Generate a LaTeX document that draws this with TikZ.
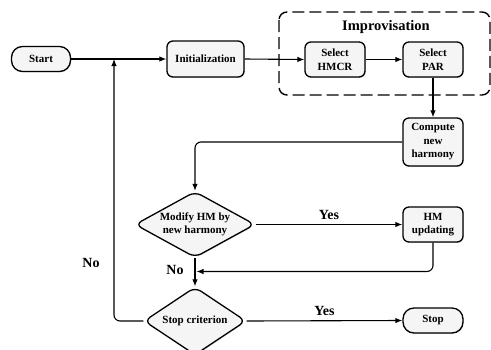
\documentclass[tikz,border=0pt]{standalone}
\usepackage{fontspec}
\setmainfont{Liberation Serif}
\usetikzlibrary{arrows.meta,shapes.geometric,shadows}
\begin{document}
\begin{tikzpicture}[x=1pt,y=-1pt,
  font=\bfseries\fontsize{11pt}{13.5pt}\selectfont,
  box/.style={draw=black, line width=1.3pt, fill=gray!8, rounded corners=6pt,
    align=center, inner sep=2pt, drop shadow={shadow xshift=0.8pt,shadow yshift=-0.8pt,opacity=0.3}},
  pill/.style={box, rounded corners=11pt},
  dia/.style={draw=black, line width=1.3pt, fill=gray!8, diamond, rounded corners=7pt,
    inner sep=0pt, drop shadow={shadow xshift=0.8pt,shadow yshift=-0.8pt,opacity=0.3}},
  txt/.style={align=center, inner sep=0pt},
  arr/.style={line width=1.1pt, -{Latex[length=7pt,width=5.5pt]}},
  lbl/.style={font=\bfseries\fontsize{14pt}{16pt}\selectfont},
]
\useasboundingbox (0,0) rectangle (491,349);
% dashed improvisation box
\draw[line width=1.4pt, dash pattern=on 12pt off 5pt, rounded corners=8pt] (279,12) rectangle (490,95);
\node[font=\bfseries\fontsize{14.5pt}{16pt}\selectfont] (imp) at (386,27) {Improvisation};

\node[pill, minimum width=59pt, minimum height=25pt] (start) at (41,59) {Start};
\node[box, minimum width=77pt, minimum height=36pt] (init) at (205.5,59) {Initialization};
\node[box, minimum width=60pt, minimum height=35pt] (hmcr) at (335,59.5) {Select\\HMCR};
\node[box, minimum width=60pt, minimum height=35pt] (par) at (433,59.5) {Select\\PAR};
\node[box, minimum width=60pt, minimum height=48pt] (comp) at (433,142) {Compute\\new\\harmony};
\node[dia, minimum width=120pt, minimum height=66pt] (mod) at (195,224.5) {};
\node[txt] (modt) at (mod.center) {Modify HM by\\new harmony};
\node[box, minimum width=60pt, minimum height=35pt] (upd) at (433,224.5) {HM\\updating};
\node[dia, minimum width=102pt, minimum height=68pt] (stopc) at (195,321) {};
\node[txt] (stopct) at (stopc.center) {Stop criterion};
\node[pill, minimum width=60pt, minimum height=25pt] (stop) at (433,320.5) {Stop};

\coordinate (j1) at (114,59);
\coordinate (j2) at (196.5,271.5);

\draw[arr] (start.east) -- (init.west);
\draw[arr] (init.east) -- (hmcr.west);
\draw[arr] (hmcr.east) -- (par.west);
\draw[arr] (par.south) -- (comp.north);
\draw[arr, rounded corners=6pt] (comp.west) -| (mod.north);
\draw[arr] (mod.east) -- node[lbl, above=1pt] (yes1) {Yes} (upd.west);
\draw[arr, rounded corners=6pt] (upd.south) |- (j2);
\draw[arr] (mod.south) -- (stopc.north);
\node[lbl] (no1) at (175,270) {No};
\draw[arr, rounded corners=6pt] (stopc.west) -| (j1);
\node[lbl] (no2) at (91,263) {No};
\draw[arr] (stopc.east) -- node[lbl, above=1pt] (yes2) {Yes} (stop.west);
\end{tikzpicture}
\end{document}
